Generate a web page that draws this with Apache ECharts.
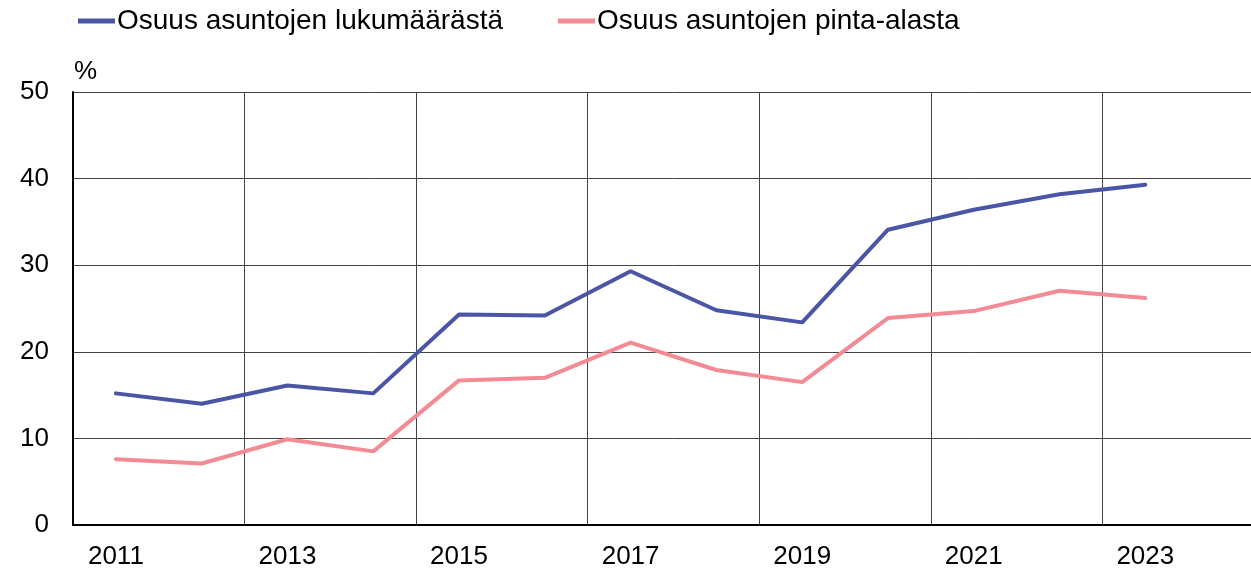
<!DOCTYPE html>
<html>
<head>
<meta charset="utf-8">
<script src="https://cdn.jsdelivr.net/npm/echarts@6/dist/echarts.min.js"></script>
<style>
  html, body { margin: 0; padding: 0; background: #fff; overflow: hidden; }
  /* kaavio jatkuu oikealla kuvan reunan yli, kuten alkuperäisessä */
  #chart { width: 1274px; height: 571px; }
</style>
</head>
<body>
<div id="chart"></div>
<script>
// vuodet (2024 tyhjä, kuva rajautuu sen kohdalta)
var years = ['2011', '2012', '2013', '2014', '2015', '2016', '2017', '2018', '2019', '2020', '2021', '2022', '2023', '2024'];
var lukumaara = [15.2, 14.0, 16.1, 15.2, 24.3, 24.2, 29.3, 24.8, 23.4, 34.1, 36.4, 38.2, 39.3, null];
var pintaAla = [7.6, 7.1, 9.9, 8.5, 16.7, 17.0, 21.05, 17.9, 16.5, 23.9, 24.7, 27.05, 26.2, null];
var seriesNames = ['Osuus asuntojen lukumäärästä', 'Osuus asuntojen pinta-alasta'];

var font = 'Liberation Sans, Arial, sans-serif';
var myChart = echarts.init(document.getElementById('chart'));

var option = {
  backgroundColor: '#fff',
  color: ['#4a55a5', '#f28b93'],
  animation: false,
  legend: {
    left: 73,
    top: 2,
    itemWidth: 37,
    itemHeight: 5,
    itemGap: 55,
    icon: 'rect',
    textStyle: { fontFamily: font, fontSize: 28, color: '#000', padding: [0, 0, 0, -3] },
    data: seriesNames
  },
  grid: {
    left: 73,
    right: 0,
    top: 92,
    bottom: 46,
    containLabel: false
  },
  xAxis: {
    type: 'category',
    data: years,
    boundaryGap: true,
    axisLine: { lineStyle: { color: '#000', width: 2 } },
    axisTick: { show: false },
    axisLabel: {
      interval: 1,
      margin: 19,
      fontFamily: font,
      fontSize: 26,
      color: '#000'
    },
    splitLine: {
      show: true,
      interval: function (index) { return index > 0 && index % 2 === 0; },
      lineStyle: { color: '#444', width: 1 }
    }
  },
  yAxis: {
    type: 'value',
    min: 0,
    max: 50,
    interval: 10,
    name: '%',
    nameLocation: 'end',
    nameGap: 7,
    nameTextStyle: { fontFamily: font, fontSize: 26, color: '#000', align: 'left', verticalAlign: 'bottom', padding: [0, 0, 0, 1] },
    axisLine: { show: true, lineStyle: { color: '#000', width: 2 } },
    axisTick: { show: false },
    axisLabel: { margin: 24, fontFamily: font, fontSize: 26, color: '#000' },
    splitLine: { show: true, lineStyle: { color: '#444', width: 1 } }
  },
  series: [
    {
      name: seriesNames[0],
      type: 'line',
      data: lukumaara,
      symbol: 'none',
      lineStyle: { width: 4, cap: 'round' }
    },
    {
      name: seriesNames[1],
      type: 'line',
      data: pintaAla,
      symbol: 'none',
      lineStyle: { width: 4, cap: 'round' }
    }
  ]
};
myChart.setOption(option);
</script>
</body>
</html>
